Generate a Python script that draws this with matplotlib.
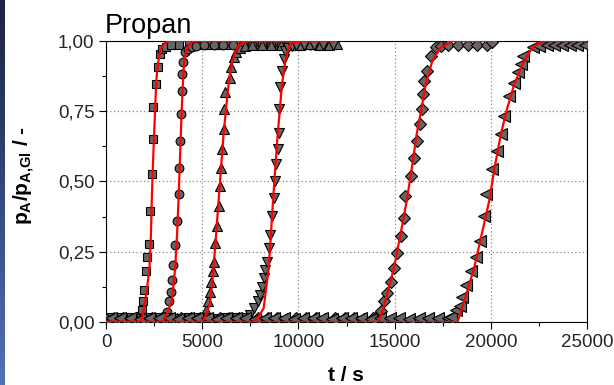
import numpy as np
import matplotlib
matplotlib.use('Agg')
import matplotlib.pyplot as plt
from matplotlib.ticker import AutoMinorLocator
from matplotlib.colors import LinearSegmentedColormap

plt.rcParams['font.family'] = ['Liberation Sans', 'DejaVu Sans']
plt.rcParams['mathtext.fontset'] = 'custom'
plt.rcParams['mathtext.rm'] = 'Liberation Sans'
plt.rcParams['mathtext.bf'] = 'Liberation Sans:bold'

# Messpunkte (t in s, p_A/p_A,Gl) fuer die sechs Durchbruchskurven
t1 = [0, 500, 1000, 1500, 1750, 1858, 1910, 1979, 2066, 2150, 2222, 2292, 2396, 2431, 2465, 2604, 2724, 2812, 2900,
      3100, 3400, 3800, 4300, 4800, 5300, 5800, 6300, 6800, 7300, 7800, 8300, 8800, 9300, 9800, 10300, 10800, 11300, 11800]
y1 = [0.013, 0.014, 0.012, 0.015, 0.022, 0.043, 0.073, 0.114, 0.180, 0.230, 0.277, 0.394, 0.527, 0.652, 0.765, 0.846, 0.906, 0.954, 0.972,
      0.980, 0.984, 0.985, 0.986, 0.984, 0.987, 0.985, 0.986, 0.988, 0.985, 0.986, 0.987, 0.985, 0.986, 0.988, 0.986, 0.985, 0.987, 0.986]

t2 = [100, 600, 1100, 1600, 2100, 2600, 2850, 2986, 3160, 3299, 3368, 3420, 3507, 3594, 3681, 3785, 3819, 3854, 3906, 3941, 3976, 4028, 4115,
      4250, 4450, 4700, 5100, 5600, 6100, 6600, 7100, 7600, 8100, 8600, 9100, 9600, 10100, 10600, 11100, 11600]
y2 = [0.014, 0.013, 0.015, 0.012, 0.014, 0.013, 0.016, 0.019, 0.037, 0.073, 0.108, 0.150, 0.204, 0.275, 0.358, 0.454, 0.549, 0.644, 0.739, 0.823, 0.882, 0.924, 0.960,
      0.972, 0.980, 0.983, 0.985, 0.986, 0.984, 0.987, 0.985, 0.986, 0.988, 0.985, 0.986, 0.987, 0.985, 0.986, 0.987, 0.985]

t3 = [200, 700, 1200, 1700, 2200, 2700, 3200, 3700, 4200, 4700,
      4950, 5070, 5191, 5295, 5382, 5469, 5538, 5590, 5677, 5764, 5885, 5938, 5990, 6024, 6111, 6146, 6198, 6424, 6493, 6632,
      6780, 6950, 7200, 7600, 8100, 8600, 9100, 9600, 10100, 10600, 11100, 11600, 12000]
y3 = [0.013, 0.015, 0.012, 0.014, 0.013, 0.015, 0.012, 0.014, 0.013, 0.015,
      0.016, 0.019, 0.043, 0.073, 0.108, 0.144, 0.180, 0.215, 0.281, 0.340, 0.412, 0.483, 0.549, 0.614, 0.686, 0.757, 0.817, 0.870, 0.906, 0.942,
      0.962, 0.975, 0.982, 0.985, 0.986, 0.984, 0.987, 0.985, 0.986, 0.988, 0.985, 0.986, 0.990]

t4 = [300, 800, 1300, 1800, 2300, 2800, 3300, 3800, 4300, 4800, 5300, 5800, 6300, 6800, 7300,
      7500, 7708, 7882, 8021, 8108, 8194, 8281, 8368, 8455, 8542, 8628, 8750, 8802, 8854, 8924, 8970, 8993, 9062, 9149, 9236, 9323,
      9450, 9650, 9900, 10300, 10800, 11300, 11800]
y4 = [0.014, 0.013, 0.015, 0.012, 0.014, 0.013, 0.015, 0.012, 0.014, 0.013, 0.015, 0.012, 0.014, 0.013, 0.016,
      0.025, 0.049, 0.073, 0.096, 0.126, 0.156, 0.186, 0.215, 0.263, 0.311, 0.376, 0.442, 0.501, 0.561, 0.614, 0.674, 0.757, 0.835, 0.894, 0.936, 0.965,
      0.975, 0.982, 0.985, 0.986, 0.984, 0.987, 0.985]

t5 = [400, 900, 1400, 1900, 2400, 2900, 3400, 3900, 4400, 4900, 5400, 5900, 6400, 6900, 7400, 7900, 8400, 8900, 9400, 9900,
      10400, 10900, 11400, 11900, 12400, 12900, 13400, 13900,
      14100, 14271, 14445, 14583, 14792, 14965, 15104, 15347, 15486, 15521, 15833, 16007, 16146, 16319, 16441, 16493, 16528, 16701, 16875, 17135,
      17400, 17800, 18300, 18800, 19300, 19800, 20050]
y5 = [0.013, 0.015, 0.012, 0.014, 0.013, 0.015, 0.012, 0.014, 0.013, 0.015, 0.012, 0.014, 0.013, 0.015, 0.012, 0.014, 0.013, 0.015, 0.012, 0.014,
      0.013, 0.015, 0.012, 0.014, 0.013, 0.015, 0.012, 0.014,
      0.020, 0.040, 0.073, 0.102, 0.144, 0.192, 0.245, 0.305, 0.370, 0.448, 0.519, 0.585, 0.644, 0.704, 0.757, 0.811, 0.858, 0.894, 0.948, 0.977,
      0.983, 0.985, 0.986, 0.984, 0.987, 0.985, 0.995]

t6 = [250, 750, 1250, 1750, 2250, 2750, 3250, 3750, 4250, 4750, 5250, 5750, 6250, 6750, 7250, 7750, 8250, 8750,
      9250, 9750, 10250, 10750, 11250, 11750, 12250, 12750, 13250, 13750, 14250, 14750, 15250, 15750, 16250, 16750, 17250, 17750,
      17917, 18177, 18385, 18525, 18698, 18959, 19219, 19445, 19653, 19740, 20087, 20348, 20521, 20695, 20955, 21216, 21389, 21563, 21650, 22170,
      22500, 22900, 23300, 23700, 24100, 24500, 24900]
y6 = [0.014, 0.013, 0.015, 0.012, 0.014, 0.013, 0.015, 0.012, 0.014, 0.013, 0.015, 0.012, 0.014, 0.013, 0.015, 0.012, 0.014, 0.013,
      0.015, 0.012, 0.014, 0.013, 0.015, 0.012, 0.014, 0.013, 0.015, 0.012, 0.014, 0.013, 0.015, 0.012, 0.014, 0.013, 0.015, 0.015,
      0.018, 0.043, 0.057, 0.090, 0.132, 0.180, 0.233, 0.287, 0.376, 0.454, 0.543, 0.608, 0.668, 0.733, 0.805, 0.852, 0.888, 0.918, 0.948, 0.977,
      0.982, 0.985, 0.986, 0.984, 0.987, 0.985, 0.986]

# Anpassungskurven (rot)
f1_t = [0, 1770, 1900, 2031, 2150, 2257, 2330, 2378, 2440, 2500, 2560, 2604, 2660, 2726, 2800, 2899, 3050, 3247, 11800]
f1_y = [0, 0, 0.02, 0.073, 0.13, 0.19, 0.30, 0.43, 0.56, 0.668, 0.77, 0.846, 0.895, 0.93, 0.958, 0.977, 0.992, 1.0, 1.0]
f2_t = [0, 2960, 3100, 3250, 3420, 3594, 3700, 3767, 3830, 3889, 3940, 3993, 4063, 4150, 4236, 4400, 4635, 11800]
f2_y = [0, 0, 0.02, 0.045, 0.073, 0.19, 0.32, 0.43, 0.55, 0.668, 0.76, 0.846, 0.93, 0.96, 0.977, 0.992, 1.0, 1.0]
f3_t = [0, 5000, 5150, 5300, 5417, 5590, 5720, 5851, 5980, 6111, 6240, 6372, 6493, 6632, 6750, 6892, 7326, 11800]
f3_y = [0, 0, 0.02, 0.045, 0.073, 0.192, 0.31, 0.43, 0.55, 0.668, 0.76, 0.846, 0.906, 0.942, 0.965, 0.984, 1.0, 1.0]
f4_t = [0, 7650, 7900, 8194, 8455, 8570, 8680, 8800, 8924, 9040, 9149, 9323, 9496, 9700, 10200, 11800]
f4_y = [0, 0, 0.015, 0.049, 0.192, 0.31, 0.43, 0.55, 0.668, 0.76, 0.846, 0.93, 0.977, 0.993, 1.0, 1.0]
f5_t = [0, 14100, 14300, 14531, 14965, 15300, 15625, 15900, 16146, 16400, 16615, 16962, 17396, 18003, 20100]
f5_y = [0, 0, 0.025, 0.079, 0.192, 0.31, 0.43, 0.55, 0.668, 0.76, 0.846, 0.93, 0.977, 1.0, 1.0]
f6_t = [0, 18264, 18420, 18612, 19132, 19520, 19914, 20200, 20521, 20850, 21216, 21736, 22170, 22500, 22778, 25000]
f6_y = [0, 0, 0.03, 0.073, 0.192, 0.31, 0.43, 0.55, 0.668, 0.76, 0.846, 0.93, 0.977, 0.993, 1.0, 1.0]

xticks = [0, 5000, 10000, 15000, 20000, 25000]
xtick_labels = ['0', '5000', '10000', '15000', '20000', '25000']
yticks = [0.0, 0.25, 0.5, 0.75, 1.0]
ytick_labels = ['0,00', '0,25', '0,50', '0,75', '1,00']

fig = plt.figure(figsize=(6.14, 3.85), dpi=100)

# blauer Folienrand links
sax = fig.add_axes([0, 0, 5 / 614, 1])
cmap = LinearSegmentedColormap.from_list('rand', ['#1b2440', '#34487c', '#5272b4'])
sax.imshow(np.linspace(0, 1, 100).reshape(-1, 1), aspect='auto', cmap=cmap)
sax.axis('off')

ax = fig.add_axes([106 / 614, 1 - 322 / 385, (587 - 106) / 614, (322 - 41) / 385])

series = [(t1, y1, 's', 5.8), (t2, y2, 'o', 6.3), (t3, y3, '^', 7.5),
          (t4, y4, 'v', 7.5), (t5, y5, 'D', 5.8), (t6, y6, '<', 8.0)]
for t, y, m, ms in series:
    ax.plot(t, y, ls='none', marker=m, ms=ms, mfc='#666666', mec='black', mew=0.8, zorder=3)

fits = [(f1_t, f1_y), (f2_t, f2_y), (f3_t, f3_y), (f4_t, f4_y), (f5_t, f5_y), (f6_t, f6_y)]
for ft, fy in fits:
    ax.plot(ft, fy, color='#ff0000', lw=1.6, zorder=4)

ax.set_xlim(0, 25000)
ax.set_ylim(0, 1.0)
ax.set_xticks(xticks)
ax.set_xticklabels(xtick_labels)
ax.set_yticks(yticks)
ax.set_yticklabels(ytick_labels)
ax.xaxis.set_minor_locator(AutoMinorLocator(2))
ax.yaxis.set_minor_locator(AutoMinorLocator(2))
ax.tick_params(which='major', direction='out', length=4.8, width=0.8, labelsize=13.5,
               labelcolor='#262626', pad=3.5)
ax.tick_params(which='minor', direction='out', length=3.2, width=0.8)
ax.grid(which='major', ls=(0, (1, 2)), color='#8c8c8c', lw=0.9, zorder=0)
for s in ax.spines.values():
    s.set_linewidth(0.8)

fig.text(105 / 614, 1 - 33 / 385, 'Propan', fontsize=19.5, ha='left', va='baseline')
fig.text(346 / 614, 1 - 381 / 385, 't / s', fontsize=15, fontweight='bold', ha='center', va='baseline')
fig.text(24 / 614, 1 - 176 / 385, r'$\mathbf{p_A/p_{A{,}Gl}}$ / -', rotation=90, fontsize=15,
         fontweight='bold', ha='center', va='center')

fig.savefig('out.png', dpi=100)
